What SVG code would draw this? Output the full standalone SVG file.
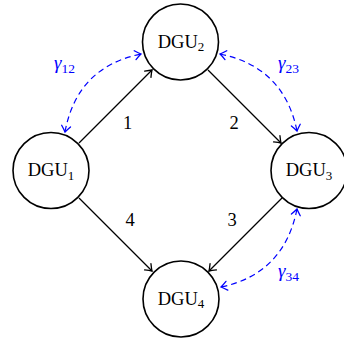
<svg xmlns="http://www.w3.org/2000/svg" width="344" height="345" viewBox="0 0 344 345">
<style>
.node circle{fill:#fff;stroke:#000;stroke-width:1.6}
text{font-family:'Liberation Serif','Times New Roman','DejaVu Serif',serif}
.lbl{font-size:18.5px;fill:#000;text-anchor:middle}
.sub{font-size:13px}
.edge{fill:none;stroke:#000;stroke-width:1.2}
.coup{fill:none;stroke:#0000ff;stroke-width:1.2;stroke-dasharray:6,4}
.g{font-size:19px;fill:#0000ff;font-style:italic}
.gs{font-size:13.5px;font-style:normal}
.num{font-size:18.5px;fill:#000;text-anchor:middle}
</style>
<defs>
<marker id="ab" viewBox="-7 -6 9 12" markerWidth="9" markerHeight="12" refX="0" refY="0" orient="auto-start-reverse" markerUnits="userSpaceOnUse">
<path d="M-6,-4.5 Q-2,-1.2 0,0 Q-2,1.2 -6,4.5" fill="none" stroke="#000" stroke-width="1.3" stroke-linecap="round"/>
</marker>
<marker id="ablue" viewBox="-7 -6 9 12" markerWidth="9" markerHeight="12" refX="0" refY="0" orient="auto-start-reverse" markerUnits="userSpaceOnUse">
<path d="M-6,-4.5 Q-2,-1.2 0,0 Q-2,1.2 -6,4.5" fill="none" stroke="#0000ff" stroke-width="1.3" stroke-linecap="round"/>
</marker>
</defs>
<g id="connectors">
<line class="edge" x1="79" y1="143" x2="152" y2="70" marker-end="url(#ab)"/>
<line class="edge" x1="208" y1="70" x2="281" y2="143" marker-end="url(#ab)"/>
<line class="edge" x1="282" y1="198" x2="209" y2="271" marker-end="url(#ab)"/>
<line class="edge" x1="79" y1="198" x2="152" y2="271" marker-end="url(#ab)"/>
<path class="coup" d="M65,132 Q77,67 141,54" marker-start="url(#ablue)" marker-end="url(#ablue)"/>
<path class="coup" d="M220,54 Q284,67 297,131" marker-start="url(#ablue)" marker-end="url(#ablue)"/>
<path class="coup" d="M297,209 Q284,274 221,287" marker-start="url(#ablue)" marker-end="url(#ablue)"/>
<text class="num" x="127.5" y="128.5">1</text>
<text class="num" x="234" y="128.5">2</text>
<text class="num" x="232" y="226">3</text>
<text class="num" x="130" y="226">4</text>
<text class="g" x="54" y="69">γ<tspan class="gs" dy="4">12</tspan></text>
<text class="g" x="278" y="69">γ<tspan class="gs" dy="4">23</tspan></text>
<text class="g" x="278" y="277">γ<tspan class="gs" dy="4">34</tspan></text>
</g>
<g id="DGU1" class="node">
<circle cx="51" cy="170.5" r="38"/>
<text class="lbl" x="51" y="176">DGU<tspan class="sub" dy="3.5">1</tspan></text>
</g>
<g id="DGU2" class="node">
<circle cx="180.5" cy="42" r="38"/>
<text class="lbl" x="181" y="47.5">DGU<tspan class="sub" dy="3.5">2</tspan></text>
</g>
<g id="DGU3" class="node">
<circle cx="309" cy="170.5" r="38"/>
<text class="lbl" x="309" y="176">DGU<tspan class="sub" dy="3.5">3</tspan></text>
</g>
<g id="DGU4" class="node">
<circle cx="181" cy="299" r="38"/>
<text class="lbl" x="181" y="304.5">DGU<tspan class="sub" dy="3.5">4</tspan></text>
</g>
</svg>
